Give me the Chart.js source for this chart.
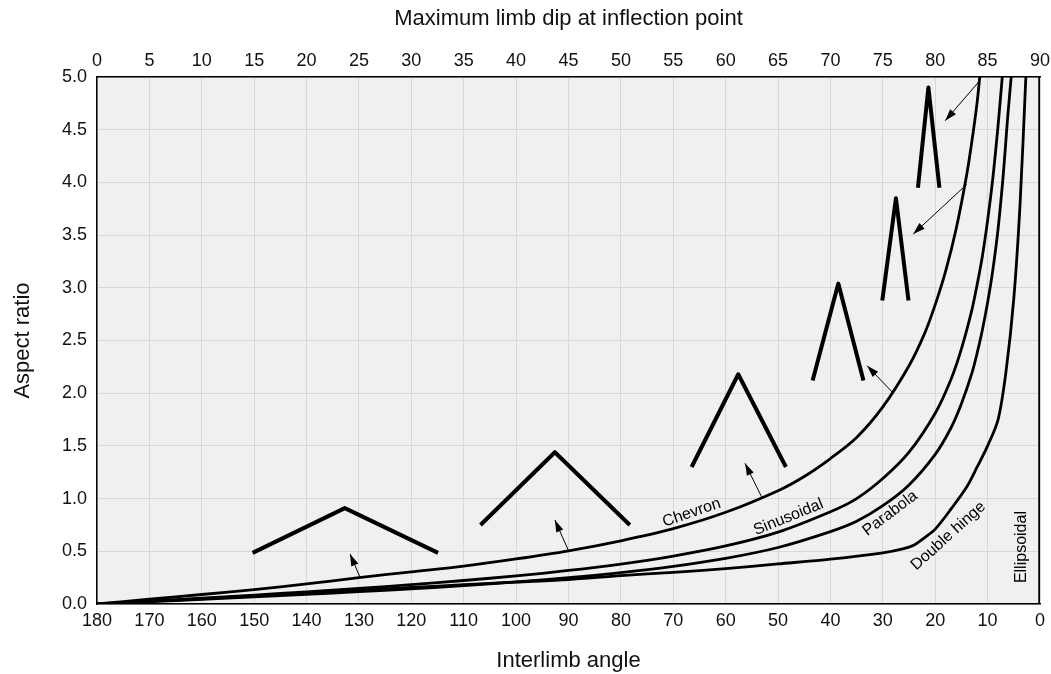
<!DOCTYPE html>
<html>
<head>
<meta charset="utf-8">
<script src="https://cdn.jsdelivr.net/npm/chart.js@4.4.1/dist/chart.umd.min.js"></script>
<style>
  body { margin: 0; background: #fff; }
  #wrap { width: 1051px; height: 674px; }
</style>
</head>
<body>
<div id="wrap"><canvas id="foldChart" width="1051" height="674"></canvas></div>
<script>
// Curvas: angulo entre flancos (graus) e razao de aspecto
const chevronAngle = [180, 170, 160, 150, 140, 130, 120, 110, 100, 90, 80, 70, 60, 50, 45, 40, 35, 30, 25, 22, 20, 18, 16, 14, 13, 12, 11.5];
const chevronRatio = [0, 0.045, 0.09, 0.137, 0.19, 0.25, 0.305, 0.36, 0.428, 0.505, 0.6, 0.715, 0.87, 1.075, 1.21, 1.38, 1.58, 1.87, 2.26, 2.57, 2.84, 3.16, 3.56, 4.07, 4.39, 4.76, 5.0];

const sinAngle = [180, 170, 160, 150, 140, 130, 120, 110, 100, 90, 80, 70, 60, 50, 40, 35, 30, 25, 20, 17, 15, 13, 12, 11, 10, 9, 8, 7.2];
const sinRatio = [0, 0.028, 0.056, 0.085, 0.116, 0.148, 0.184, 0.223, 0.267, 0.318, 0.379, 0.455, 0.551, 0.682, 0.875, 1.0, 1.19, 1.44, 1.81, 2.13, 2.42, 2.79, 3.03, 3.3, 3.64, 4.04, 4.54, 5.0];

const parAngle = [180, 170, 160, 150, 140, 130, 120, 110, 100, 90, 80, 70, 60, 50, 40, 35, 30, 25, 20, 17, 15, 13, 12, 11, 10, 9, 8, 7, 6.2, 5.5];
const parRatio = [0, 0.022, 0.044, 0.067, 0.091, 0.117, 0.144, 0.175, 0.21, 0.25, 0.298, 0.357, 0.433, 0.536, 0.687, 0.785, 0.933, 1.13, 1.42, 1.67, 1.9, 2.19, 2.38, 2.6, 2.86, 3.17, 3.56, 4.08, 4.6, 5.0];

const hingeAngle = [180, 170, 160, 150, 140, 130, 120, 110, 100, 90, 80, 70, 60, 50, 40, 30, 26, 24, 22, 20, 17, 14, 12, 10, 8, 6.5, 5, 3.8, 2.7];
const hingeRatio = [0, 0.025, 0.05, 0.077, 0.104, 0.13, 0.157, 0.183, 0.208, 0.232, 0.27, 0.3, 0.335, 0.38, 0.425, 0.485, 0.525, 0.56, 0.63, 0.71, 0.9, 1.11, 1.3, 1.5, 1.75, 2.2, 2.9, 3.8, 5.0];

const ellipAngle = [0, 0];
const ellipRatio = [0, 5];

// Desenhos das dobras (chevrons grossos)
const fold1Angle = [150.3, 132.7, 114.9];
const fold1Ratio = [0.485, 0.91, 0.485];
const fold2Angle = [106.8, 92.6, 78.3];
const fold2Ratio = [0.75, 1.44, 0.75];
const fold3Angle = [66.5, 57.6, 48.5];
const fold3Ratio = [1.3, 2.18, 1.3];
const fold4Angle = [43.4, 38.5, 33.7];
const fold4Ratio = [2.12, 3.04, 2.12];
const fold5Angle = [30.1, 27.5, 25.1];
const fold5Ratio = [2.88, 3.85, 2.88];
const fold6Angle = [23.3, 21.3, 19.2];
const fold6Ratio = [3.95, 4.9, 3.95];

// Setas: da curva Chevron ate a dobra
const arrowTailAngle = [129.8, 90.0, 53.1, 28.0, 14.0, 11.5];
const arrowTailRatio = [0.255, 0.506, 1.012, 2.0, 3.98, 4.965];
const arrowHeadAngle = [131.7, 92.6, 56.3, 33.0, 24.2, 18.1];
const arrowHeadRatio = [0.474, 0.797, 1.335, 2.26, 3.51, 4.585];

// Rotulos das curvas
const curveNames = ['Chevron', 'Sinusoidal', 'Parabola', 'Double hinge', 'Ellipsoidal'];
const nameAngle = [66.5, 48.0, 28.6, 17.5, 3.5];
const nameRatio = [0.866, 0.823, 0.86, 0.645, 0.54];
const nameTilt = [-19, -22, -37, -42, -90];

const topTicks = [0, 5, 10, 15, 20, 25, 30, 35, 40, 45, 50, 55, 60, 65, 70, 75, 80, 85, 90];

const FONT = 'Arial, "Liberation Sans", sans-serif';
Chart.defaults.font.family = FONT;
Chart.defaults.color = '#111';

const toPoints = (xs, ys) => xs.map((x, i) => ({ x: x, y: ys[i] }));

function curve(xs, ys, width, tension) {
    return {
        data: toPoints(xs, ys),
        showLine: true,
        borderColor: '#000',
        borderWidth: width,
        pointRadius: 0,
        tension: tension || 0,
        borderJoinStyle: 'round',
        borderCapStyle: 'butt'
    };
}

const datasets = [
    curve(chevronAngle, chevronRatio, 2.8, 0.3),
    curve(sinAngle, sinRatio, 2.8, 0.3),
    curve(parAngle, parRatio, 2.8, 0.3),
    curve(hingeAngle, hingeRatio, 2.8, 0.3),
    curve(ellipAngle, ellipRatio, 3.5),
    curve(fold1Angle, fold1Ratio, 4),
    curve(fold2Angle, fold2Ratio, 4),
    curve(fold3Angle, fold3Ratio, 4),
    curve(fold4Angle, fold4Ratio, 4),
    curve(fold5Angle, fold5Ratio, 4),
    curve(fold6Angle, fold6Ratio, 4)
];
arrowTailAngle.forEach((a, i) => {
    datasets.push(curve([a, arrowHeadAngle[i]], [arrowTailRatio[i], arrowHeadRatio[i]], 1));
});

// Fundo cinza da area do grafico
const plotBackground = {
    id: 'plotBackground',
    beforeDraw(chart) {
        const { ctx, chartArea: a } = chart;
        ctx.save();
        ctx.fillStyle = '#f0f0f0';
        ctx.fillRect(a.left, a.top, a.right - a.left, a.bottom - a.top);
        ctx.restore();
    }
};

// Pontas das setas e rotulos
const annotations = {
    id: 'annotations',
    afterDatasetsDraw(chart) {
        const { ctx } = chart;
        const xs = chart.scales.x, ys = chart.scales.y;
        ctx.save();
        ctx.fillStyle = '#000';
        arrowTailAngle.forEach((a, i) => {
            const x0 = xs.getPixelForValue(a), y0 = ys.getPixelForValue(arrowTailRatio[i]);
            const x1 = xs.getPixelForValue(arrowHeadAngle[i]), y1 = ys.getPixelForValue(arrowHeadRatio[i]);
            const ang = Math.atan2(y1 - y0, x1 - x0);
            const len = 12, half = 3.8;
            ctx.beginPath();
            ctx.moveTo(x1, y1);
            ctx.lineTo(x1 - len * Math.cos(ang) + half * Math.sin(ang), y1 - len * Math.sin(ang) - half * Math.cos(ang));
            ctx.lineTo(x1 - len * Math.cos(ang) - half * Math.sin(ang), y1 - len * Math.sin(ang) + half * Math.cos(ang));
            ctx.closePath();
            ctx.fill();
        });
        ctx.font = '16px ' + FONT;
        ctx.textAlign = 'center';
        ctx.textBaseline = 'middle';
        curveNames.forEach((name, i) => {
            ctx.save();
            ctx.translate(xs.getPixelForValue(nameAngle[i]), ys.getPixelForValue(nameRatio[i]));
            ctx.rotate(nameTilt[i] * Math.PI / 180);
            ctx.fillText(name, 0, 0);
            ctx.restore();
        });
        ctx.restore();
    }
};

new Chart(document.getElementById('foldChart'), {
    type: 'scatter',
    data: { datasets: datasets },
    options: {
        responsive: false,
        animation: false,
        layout: { padding: { left: 0, right: 11, top: 0, bottom: 0 } },
        plugins: { legend: { display: false }, tooltip: { enabled: false } },
        scales: {
            x: {
                type: 'linear',
                position: 'bottom',
                min: 0,
                max: 180,
                reverse: true,
                ticks: { stepSize: 10, padding: 6, font: { size: 18 }, maxRotation: 0, autoSkip: false },
                grid: { color: '#d8d8d8', drawTicks: false },
                border: { color: '#000', width: 1.5 },
                title: { display: true, text: 'Interlimb angle', font: { size: 22 }, padding: { top: 0, bottom: 0 } },
                afterFit(s) { s.height = 70; s.paddingLeft = 0; s.paddingRight = 0; }
            },
            x2: {
                type: 'linear',
                position: 'top',
                min: 0,
                max: 90,
                afterBuildTicks(s) { s.ticks = topTicks.map(v => ({ value: v })); },
                ticks: { padding: 5, font: { size: 18 }, maxRotation: 0, autoSkip: false },
                grid: { display: false, drawTicks: false },
                border: { color: '#000', width: 1.5 },
                title: { display: true, text: 'Maximum limb dip at inflection point', font: { size: 22 }, padding: { top: 6, bottom: 0 } },
                afterFit(s) { s.height = 77; s.paddingLeft = 0; s.paddingRight = 0; }
            },
            y: {
                min: 0,
                max: 5,
                ticks: { stepSize: 0.5, padding: 10, font: { size: 18 }, callback: v => v.toFixed(1) },
                grid: { color: '#d8d8d8', drawTicks: false },
                border: { color: '#000', width: 1.5 },
                title: { display: true, text: 'Aspect ratio', font: { size: 22 }, padding: { top: 10, bottom: 0 } },
                afterFit(s) { s.width = 97; }
            }
        }
    },
    plugins: [plotBackground, annotations]
});
</script>
</body>
</html>
